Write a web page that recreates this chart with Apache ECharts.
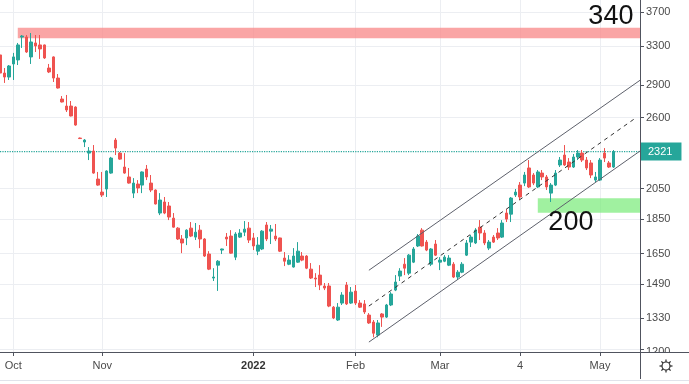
<!DOCTYPE html>
<html><head><meta charset="utf-8">
<script src="https://cdn.jsdelivr.net/npm/echarts@6/dist/echarts.min.js"></script>
<style>html,body{margin:0;padding:0;background:#fff}#c{width:689px;height:384px}</style>
</head><body><div id="c"></div>
<script>
// ---- data ----
const opens = [3205,3017,2977,3110,3152,3403,3403,3184,3336,3314,3314,3068,3184,2967,2766,2702,2702,2693,2428,2396,
2309,2325,2117,2027,2048,2160,2412,2309,2204,2132,2020,2082,2075,2189,2089,2041,1890,1961,1935,1858,
1797,1733,1739,1797,1744,1785,1733,1648,1521,1588,1670,1744,1750,1631,1744,1773,1797,1739,1664,1676,
1816,1779,1750,1739,1626,1593,1578,1604,1637,1637,1567,1521,1536,1481,1481,1380,1322,1399,1486,1399,
1456,1399,1395,1344,1313,1257,1349,1335,1390,1461,1531,1593,1546,1604,1693,1785,1715,1593,1704,1604,
1609,1588,1593,1526,1551,1642,1715,1710,1803,1768,1681,1744,1768,1744,1890,1883,2007,2075,2089,2197,
2146,2062,2160,2132,2020,2075,2219,2294,2241,2204,2279,2309,2256,2234,2110,2110,2309,2234,2204];
const closes = [3017,2977,3089,3184,3314,3414,3237,3347,3303,3270,3173,3028,2967,2870,2739,2667,2614,2536,2424,2412,
2325,2160,2075,2007,2175,2271,2348,2263,2160,2089,2089,2055,2168,2132,2041,1948,1974,1890,1865,1803,
1733,1710,1785,1750,1773,1733,1637,1567,1526,1609,1676,1733,1653,1762,1768,1791,1727,1693,1698,1779,
1733,1791,1733,1664,1609,1615,1637,1664,1615,1572,1521,1516,1486,1471,1385,1331,1380,1437,1395,1451,
1399,1380,1358,1309,1265,1309,1335,1390,1442,1501,1557,1572,1642,1676,1750,1693,1670,1676,1642,1615,
1631,1626,1526,1551,1593,1710,1744,1785,1768,1710,1715,1715,1739,1828,1852,1987,2027,1994,2146,2062,
2089,2168,2132,2062,2075,2160,2256,2219,2204,2279,2309,2256,2197,2146,2132,2256,2271,2204,2321];
const lows = [2997,2919,2948,2948,3099,3281,3227,3110,3237,3163,3163,3017,2928,2865,2735,2649,2610,2530,2420,2356,
2256,2155,2070,1994,1994,2155,2294,2258,2155,2085,1987,2020,2020,2110,2027,1945,1877,1883,1846,1800,
1727,1653,1698,1744,1727,1681,1632,1562,1506,1457,1648,1693,1650,1615,1739,1750,1710,1670,1642,1670,
1721,1704,1721,1659,1583,1588,1575,1600,1609,1567,1516,1476,1461,1461,1380,1326,1318,1390,1390,1395,
1390,1376,1349,1305,1248,1248,1292,1331,1385,1456,1506,1536,1536,1599,1687,1690,1664,1583,1637,1562,
1604,1583,1521,1511,1546,1637,1687,1704,1727,1698,1670,1710,1727,1739,1834,1834,1994,1974,2068,2055,
2075,2055,2110,2041,1961,2068,2204,2212,2182,2197,2256,2241,2182,2124,2096,2103,2241,2197,2197];
const highs = [3237,3068,3099,3227,3336,3426,3426,3449,3426,3426,3318,3110,3190,3007,2794,2804,2748,2700,2432,2420,
2356,2372,2168,2168,2180,2280,2428,2317,2309,2197,2124,2110,2172,2219,2146,2045,2020,1994,1961,1890,
1803,1756,1790,1834,1828,1816,1738,1664,1572,1615,1678,1768,1785,1773,1791,1840,1834,1768,1744,1785,
1834,1816,1822,1741,1659,1642,1681,1715,1659,1642,1599,1546,1588,1496,1496,1385,1399,1451,1501,1476,
1486,1413,1413,1353,1322,1322,1353,1395,1451,1536,1572,1626,1648,1687,1762,1797,1727,1681,1727,1631,
1642,1642,1604,1562,1604,1727,1756,1797,1846,1785,1727,1756,1797,1846,1915,1994,2048,2096,2168,2256,
2160,2182,2182,2146,2089,2182,2279,2372,2271,2302,2333,2333,2279,2256,2168,2271,2348,2249,2333];
const slotCount = 145;                       // trading-day slots on the time axis (incl. empty future slots)
const monthLabels = ['Oct','Nov','2022','Feb','Mar','4','May'];
const monthSlots  = [3, 23, 57, 80, 99, 117, 135];
const yTicks = [1200,1330,1490,1650,1850,2050,2600,2900,3300,3700];
const lastPrice = 2321;
const resistanceZone = {from: 4, to: 144, low: 3390, high: 3510, text: '340', textAt: [137, 3639]};
const supportZone    = {from: 121, to: 144, low: 1892, high: 1985, text: '200', textAt: [128, 1832]};
const channelUpper = [[83,1561],[144,2945]];
const channelLower = [[83,1228],[144,2325]];
const channelMid   = [[83,1385],[143,2596]];

// ---- chart ----
const categories = Array.from({length: slotCount}, (_, i) => String(i));
const candles = opens.map((o, i) => [o, closes[i], lows[i], highs[i]]);
const priceLine = [[0, lastPrice], [slotCount - 1, lastPrice]];
const isMonth = (i) => monthSlots.indexOf(i) >= 0;
const UP = '#26a69a', DOWN = '#ef5350', AX = '#50535e', GRID = '#eceef2', TXT = '#4a4a4a';
const FONT = 'Liberation Sans, Arial, sans-serif';

const chart = echarts.init(document.getElementById('c'), null, {renderer: 'canvas'});
chart.setOption({
  animation: false,
  textStyle: {fontFamily: FONT},
  grid: {left: 0, right: 49, top: 0, bottom: 32},
  xAxis: {
    type: 'category', data: categories, boundaryGap: false,
    axisLine: {lineStyle: {color: AX}},
    axisTick: {show: true, interval: (i) => isMonth(i), length: 4, lineStyle: {color: AX}},
    axisLabel: {
      interval: (i) => isMonth(i), color: TXT, fontSize: 11, margin: 8, fontFamily: FONT,
      formatter: (v) => {
        const k = monthSlots.indexOf(+v);
        const t = k >= 0 ? monthLabels[k] : '';
        return /^\d{4}$/.test(t) ? '{b|' + t + '}' : t;
      },
      rich: {b: {fontWeight: 'bold', fontSize: 11, color: '#333', fontFamily: FONT}}
    },
    splitLine: {show: true, interval: (i) => isMonth(i), lineStyle: {color: GRID}}
  },
  yAxis: {
    type: 'log', logBase: 10, position: 'right', min: 1188, max: 3851, scale: true,
    axisLine: {show: true, lineStyle: {color: AX}},
    axisTick: {show: true, customValues: yTicks, length: 4, lineStyle: {color: AX}},
    axisLabel: {
      customValues: yTicks, color: TXT, fontSize: 11, margin: 6, fontFamily: FONT,
      formatter: (v) => {
        const s = String(Math.round(v));
        return Math.round(v) === yTicks[0] ? '{low|' + s + '}' : s;
      },
      rich: {low: {padding: [5, 0, 0, 0], color: TXT, fontSize: 11, fontFamily: FONT}}
    },
    splitLine: {show: true, lineStyle: {color: GRID}},
    minorTick: {show: false}, minorSplitLine: {show: false}
  },
  series: [
    {
      type: 'candlestick', data: candles, barWidth: 3, clip: true, z: 3,
      emphasis: {disabled: true},
      itemStyle: {color: UP, color0: DOWN, borderColor: UP, borderColor0: DOWN, borderColorDoji: UP, borderWidth: 1},
      markArea: {
        silent: true,
        data: [
          [{xAxis: resistanceZone.from, yAxis: resistanceZone.high, itemStyle: {color: 'rgba(249,140,140,0.78)'}},
           {xAxis: resistanceZone.to, yAxis: resistanceZone.low}],
          [{xAxis: supportZone.from, yAxis: supportZone.high, itemStyle: {color: 'rgba(120,235,120,0.7)'}},
           {xAxis: supportZone.to, yAxis: supportZone.low}]
        ]
      },
      markPoint: {
        silent: true, symbol: 'circle', symbolSize: 1, itemStyle: {color: 'rgba(0,0,0,0)'},
        label: {show: true, color: '#111', fontSize: 27, fontFamily: FONT, offset: [2, 0]},
        data: [
          {coord: resistanceZone.textAt, label: {formatter: resistanceZone.text}},
          {coord: supportZone.textAt, label: {formatter: supportZone.text}}
        ]
      }
    },
    {
      type: 'line', data: priceLine, symbol: 'none', silent: true, z: 2, clip: false,
      color: UP, itemStyle: {color: UP},
      lineStyle: {color: UP, width: 1.2, type: 'dotted', opacity: 1},
      endLabel: {show: true, formatter: String(lastPrice), color: '#fff', backgroundColor: UP,
                 fontSize: 11, padding: [4, 9, 3, 7], distance: 1, fontFamily: FONT}
    },
    {type: 'line', data: channelUpper, symbol: 'none', silent: true, z: 4, lineStyle: {color: '#5d606b', width: 1}},
    {type: 'line', data: channelLower, symbol: 'none', silent: true, z: 4, lineStyle: {color: '#5d606b', width: 1}},
    {type: 'line', data: channelMid, symbol: 'none', silent: true, z: 4, lineStyle: {color: '#333', width: 1, type: [4, 4]}}
  ],
  graphic: [
    {type: 'rect', z: 100, shape: {x: 641, y: 352, width: 48, height: 32}, style: {fill: '#fff'}},
    {type: 'line', z: 101, shape: {x1: 640, y1: 352.5, x2: 689, y2: 352.5}, style: {stroke: AX, lineWidth: 1}},
    {type: 'line', z: 101, shape: {x1: 640.5, y1: 352, x2: 640.5, y2: 379}, style: {stroke: AX, lineWidth: 1}},
    {type: 'line', z: 101, shape: {x1: 0, y1: 380.5, x2: 689, y2: 380.5}, style: {stroke: '#e0e3eb', lineWidth: 1}},
    {type: 'circle', z: 102, shape: {cx: 666, cy: 366, r: 4}, style: {fill: '#fff', stroke: '#333', lineWidth: 1.2}},
    ...[0,1,2,3,4,5,6,7].map(k => {
      const a = k * Math.PI / 4;
      return {type: 'line', z: 102,
              shape: {x1: 666 + 4 * Math.cos(a), y1: 366 + 4 * Math.sin(a), x2: 666 + 6.5 * Math.cos(a), y2: 366 + 6.5 * Math.sin(a)},
              style: {stroke: '#333', lineWidth: 1.3}};
    })
  ]
});
</script></body></html>
